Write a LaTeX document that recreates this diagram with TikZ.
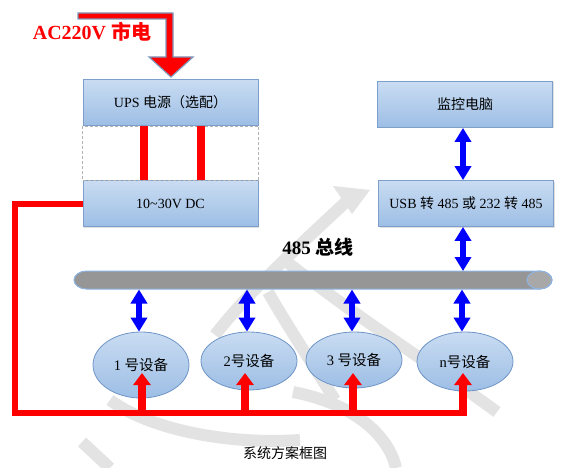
\documentclass[tikz,border=0pt]{standalone}
\usepackage{fontspec}
\setmainfont{Liberation Serif}
\newfontfamily\cjk{Noto Sans CJK SC}
\usetikzlibrary{arrows.meta,shadows,calc,shapes.geometric}
\definecolor{boxtop}{HTML}{C9DCF2}
\definecolor{boxbot}{HTML}{9DBEE5}
\definecolor{boxline}{HTML}{7E9FCC}
\definecolor{elline}{HTML}{6F95C6}
\definecolor{wm}{HTML}{E3E3E3}
\definecolor{busgray}{HTML}{969696}
\definecolor{busend}{HTML}{A8A8A8}
\definecolor{busline}{HTML}{8DB3E2}
\tikzset{
  blk/.style={draw=boxline, line width=0.8pt, top color=boxtop, bottom color=boxbot,
    minimum width=175pt, minimum height=46pt, inner sep=0pt, font=\fontsize{14}{16}\selectfont,
    drop shadow={opacity=0.25, shadow xshift=1pt, shadow yshift=-1pt}},
  dev/.style={ellipse, draw=elline, line width=0.8pt, top color=boxtop, bottom color=boxbot,
    inner sep=0pt, minimum width=96pt, font=\fontsize{14.5}{16}\selectfont},
  bluearr/.style={draw=blue, line width=6pt, {Triangle[width=16pt,length=14pt]}-{Triangle[width=16pt,length=14pt]}},
  redarr/.style={draw=red, line width=8pt, -{Triangle[width=17pt,length=12pt]}},
  redline/.style={draw=red, line width=6pt},
  wmstroke/.style={draw=wm, line width=12pt}
}
\begin{document}
\begin{tikzpicture}[x=1pt,y=-1pt]
\useasboundingbox (0,0) rectangle (565,468);
% watermark
\fill[wm] (333,186) -- (370,190) -- (352,214) -- cycle;
\draw[wmstroke] (350,198) .. controls (300,245) and (250,290) .. (215,335);
\draw[wmstroke] (287,262) .. controls (360,320) and (440,370) .. (497,412);
\draw[wmstroke] (268,292) .. controls (290,330) and (310,360) .. (335,400);
\draw[wmstroke] (110,400) .. controls (150,430) and (230,445) .. (300,440);
\draw[wmstroke] (293,392) .. controls (360,405) and (390,440) .. (396,468);
\draw[wmstroke] (82,442) -- (110,468);
% boxes
\node[blk] (ups) at (170.5,102.5) {UPS {\cjk 电源（选配）}};
\node[blk] (dc) at (170.5,203.5) {10\textasciitilde30V DC};
\draw[densely dashed, draw=gray!60, line width=0.6pt] (ups.south west) rectangle (dc.north east);
\node[blk] (pc) at (465,104.5) {\cjk 监控电脑};
\node[blk] (usb) at (466,203.5) {USB {\cjk 转} 485 {\cjk 或} 232 {\cjk 转} 485};
% red bars between UPS and DC
\draw[draw=red, line width=8pt] ($(ups.south)+(-26.5,0)$) -- ($(dc.north)+(-26.5,0)$);
\draw[draw=red, line width=8pt] ($(ups.south)+(30.5,0)$) -- ($(dc.north)+(30.5,0)$);
% AC input arrow
\node[text=red, font=\fontsize{20}{22}\bfseries] (ac) at (92,32) {AC220V {\cjk 市电}};
\filldraw[fill=red, draw=boxline!80!gray, line width=1.2pt]
  (78,13) -- (173,13) -- (173,57) -- (193,57) -- (171,77) -- (149,57) -- (166,57) -- (166,19) -- (78,19) -- cycle;
% bus
\coordinate (busR) at (539.5,280);
\filldraw[fill=busgray, draw=busline, line width=1pt]
  (86.5,271) -- (539.5,271) arc[start angle=90,end angle=-90,x radius=12.5pt,y radius=9pt]
  -- (86.5,289) arc[start angle=270,end angle=90,x radius=12.5pt,y radius=9pt] -- cycle;
\filldraw[fill=busend, draw=busline, line width=1pt] (busR) ellipse[x radius=12.5pt, y radius=9pt];
\node[font=\fontsize{19}{21}\bfseries] (buslbl) at (318,247) {485 {\cjk 总线}};
% devices
\node[dev, minimum height=66pt] (d1) at (141,365) {1 {\cjk 号设备}};
\node[dev, minimum height=58pt] (d2) at (249,361) {2{\cjk 号设备}};
\node[dev, minimum height=56pt] (d3) at (354,360) {3 {\cjk 号设备}};
\node[dev, minimum height=59pt] (dn) at (465,361.5) {n{\cjk 号设备}};
% blue arrows
\draw[bluearr] (pc.south -| 463,0) -- (usb.north -| 463,0);
\draw[bluearr] (usb.south -| 463,0) -- (463,271);
\foreach \n/\x in {d1/139,d2/247,d3/352,dn/462}{
  \draw[bluearr] (\x,289.5) -- (\n.north -| \x,0);
}
% red power lines
\coordinate (c1) at (15,204);
\coordinate (c2) at (15,413);
\coordinate (c3) at (467,413);
\draw[redline] (dc.west |- 0,204) -- (c1) -- (c2) -- (c3);
\foreach \n/\x in {d1/142,d2/245,d3/353,dn/463}{
  \draw[redarr] (\x,415) -- (\x,373);
}
% caption
\node[font=\fontsize{14}{16}\selectfont\cjk] (cap) at (285,453) {系统方案框图};
\end{tikzpicture}
\end{document}
